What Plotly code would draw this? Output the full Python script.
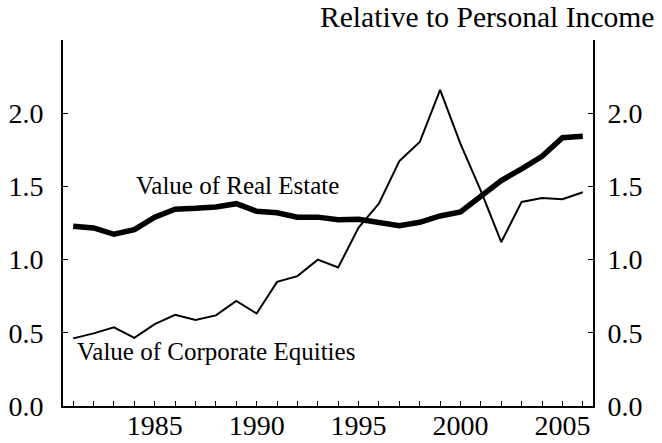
import plotly.graph_objects as go

years = list(range(1981, 2007))
real_estate = [1.228, 1.216, 1.173, 1.205, 1.29, 1.344, 1.35, 1.36, 1.382, 1.33,
               1.32, 1.29, 1.29, 1.273, 1.275, 1.257, 1.232, 1.255, 1.298, 1.325,
               1.43, 1.54, 1.62, 1.705, 1.833, 1.842]
equities = [0.462, 0.496, 0.537, 0.466, 0.559, 0.623, 0.587, 0.619, 0.718, 0.632,
            0.848, 0.887, 1.0, 0.946, 1.219, 1.383, 1.673, 1.803, 2.16, 1.79,
            1.47, 1.12, 1.394, 1.42, 1.412, 1.46]
x_ticks = [1985, 1990, 1995, 2000, 2005]
y_ticks = [0.0, 0.5, 1.0, 1.5, 2.0]
y_labels = ["0.0", "0.5", "1.0", "1.5", "2.0"]

FONT = "Liberation Serif, Times New Roman, serif"

W, H = 662, 443
ML, MR, MT, MB = 63, 69, 39.5, 37
PW, PH = W - ML - MR, H - MT - MB

fig = go.Figure()
fig.add_trace(go.Scatter(x=years, y=real_estate, mode="lines",
                         line=dict(color="black", width=5.5), yaxis="y",
                         showlegend=False, hoverinfo="skip"))
fig.add_trace(go.Scatter(x=years, y=equities, mode="lines",
                         line=dict(color="black", width=2), yaxis="y2",
                         showlegend=False, hoverinfo="skip"))

yax = dict(range=[0, 2.5], tickvals=y_ticks, ticktext=y_labels, showline=True,
           linecolor="black", linewidth=2, ticks="inside", ticklen=5, tickwidth=1,
           tickcolor="black", showgrid=False, zeroline=False, automargin=False,
           tickfont=dict(family=FONT, size=28, color="black"))

fig.update_layout(
    width=W, height=H,
    margin=dict(l=ML, r=MR, t=MT, b=MB, autoexpand=False),
    paper_bgcolor="white", plot_bgcolor="white",
    font=dict(family=FONT, color="black"),
    xaxis=dict(range=[1980.5, 2006.5], tickvals=x_ticks, showline=True,
               linecolor="black", linewidth=2, ticks="inside", ticklen=5,
               tickwidth=1, tickcolor="black", showgrid=False, zeroline=False,
               automargin=False, ticklabelstandoff=-7,
               minor=dict(ticks="inside", ticklen=5, tickwidth=1, tickcolor="black",
                          dtick=1, tick0=1981, showgrid=False),
               tickfont=dict(family=FONT, size=28, color="black")),
    yaxis=dict(**yax, side="left", ticklabelstandoff=12),
    yaxis2=dict(**yax, side="right", overlaying="y", anchor="x",
                ticklabelstandoff=7),
    annotations=[
        dict(text="Relative to Personal Income", xref="paper", yref="paper",
             x=(319 - ML) / PW, y=(PH + MT - 16) / PH, xanchor="left",
             yanchor="middle", showarrow=False, borderpad=0,
             font=dict(family=FONT, size=29.6, color="black")),
        dict(text="Value of Real Estate", xref="x", yref="y", x=1989.05, y=1.507,
             showarrow=False, font=dict(family=FONT, size=25, color="black")),
        dict(text="Value of Corporate Equities", xref="x", yref="y", x=1988.0,
             y=0.37, showarrow=False,
             font=dict(family=FONT, size=25, color="black")),
    ],
)

fig.write_html("out.html", config={"displayModeBar": False},
               post_script="document.body.style.margin='0';")
